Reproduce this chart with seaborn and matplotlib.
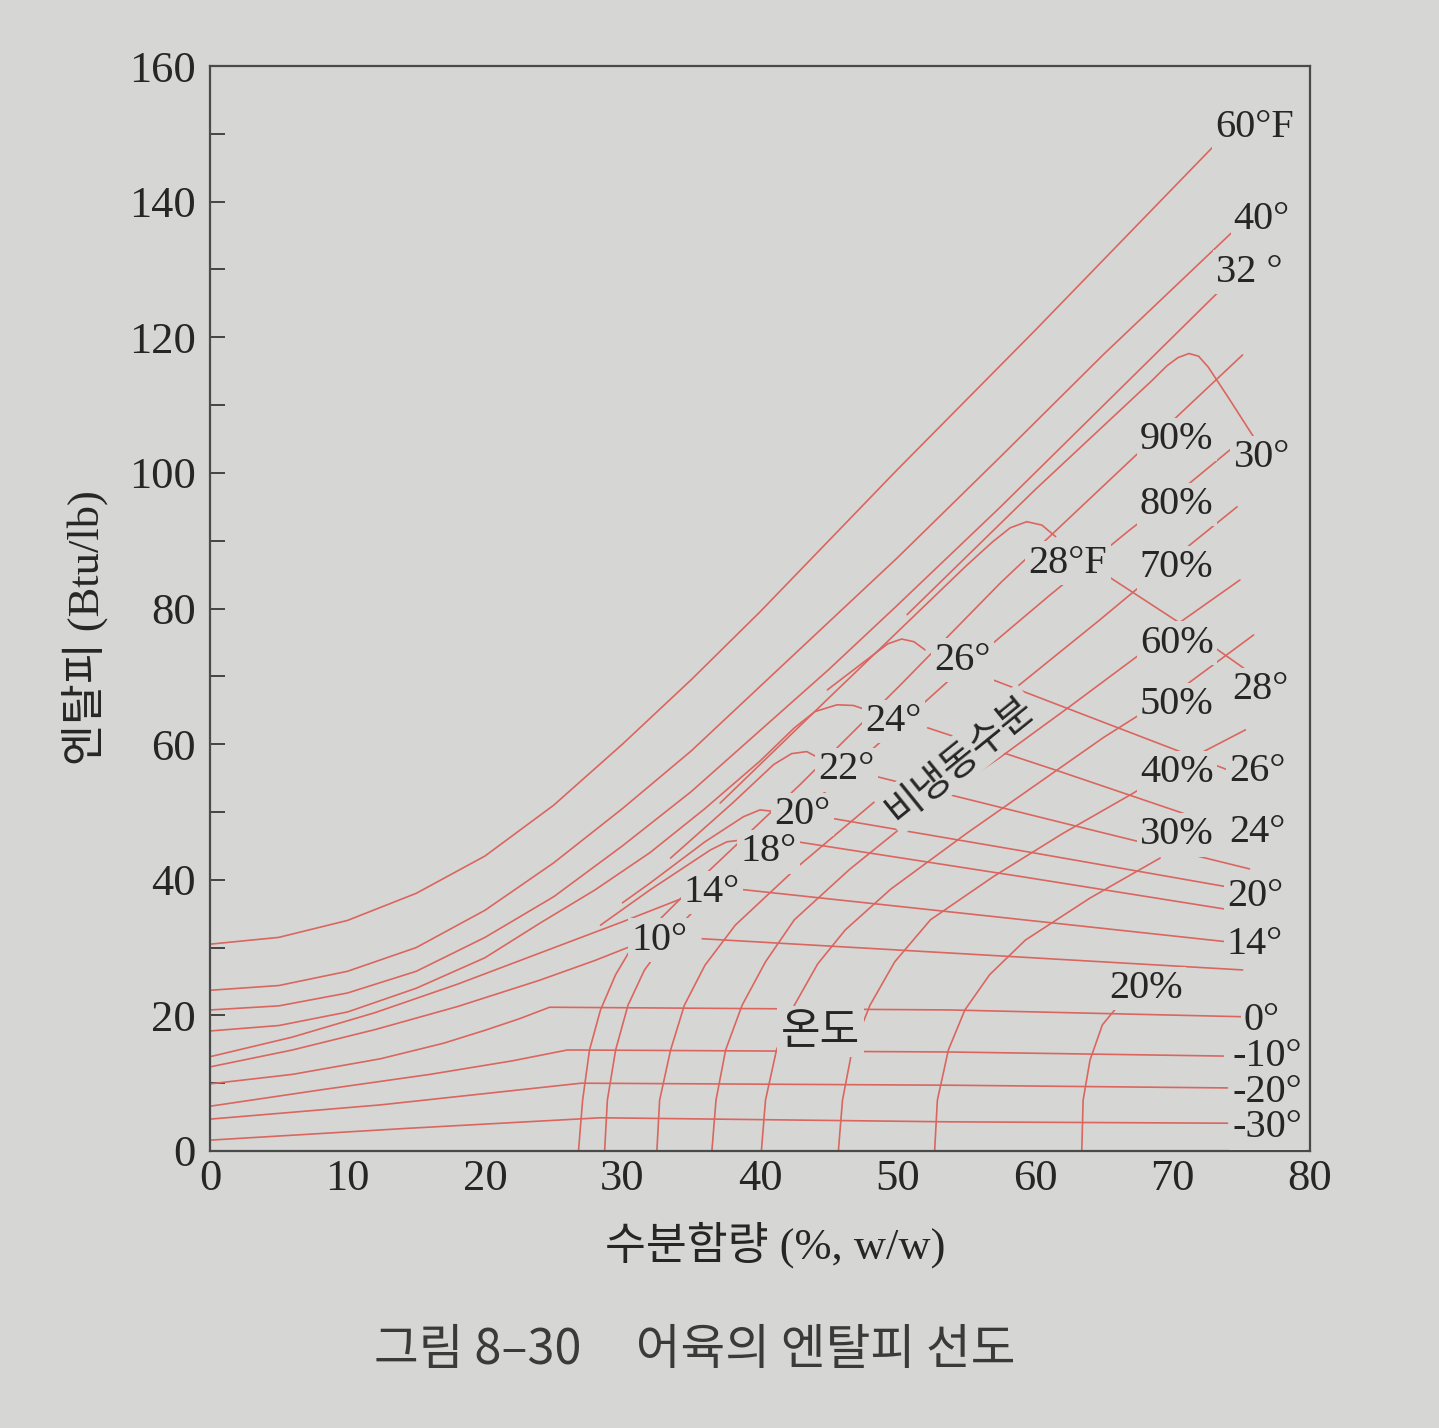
import numpy as np
import pandas as pd
import seaborn as sns
import matplotlib.pyplot as plt

# 수분함량 (%) / 엔탈피 (Btu/lb)

# temperature lines, unfrozen side (left of the freezing boundary)
t60_x = [0, 5, 10, 15, 20, 25, 30, 35, 40, 50, 60, 73.1]
t60_y = [30.5, 31.5, 34, 38, 43.5, 51, 60, 69.5, 79.5, 100.5, 121, 148.4]
t40_x = [0, 5, 10, 15, 20, 25, 30, 35, 40, 45, 50, 57.5, 65, 74.5]
t40_y = [23.7, 24.4, 26.5, 30, 35.5, 42.5, 50.5, 59, 68.5, 78, 87.5, 102.4, 117.5, 135.8]
t32_x = [0, 5, 10, 15, 20, 25, 30, 35, 40, 45, 50, 57.5, 65, 73.5]
t32_y = [20.8, 21.4, 23.3, 26.5, 31.5, 37.5, 45, 53, 62, 71, 80.5, 95, 110, 127]
t30_x = [50.7, 60, 68.5, 69.6, 70.4, 71.2, 71.9, 72.6, 74.0, 75.9]
t30_y = [79.1, 97.5, 113.6, 115.8, 117.0, 117.6, 117.2, 115.6, 111.3, 105.3]
t28_x = [37.1, 45, 55, 56.9, 58.2, 59.4, 60.5, 61.5]
t28_y = [51.3, 66.8, 86.3, 89.8, 91.9, 92.8, 92.3, 90.6]
t26_x = [44.9, 48.0, 49.3, 50.3, 51.2, 52.0]
t26_y = [68.0, 72.8, 74.8, 75.5, 75.1, 73.9]
t24_x = [0, 5, 10, 15, 20, 24, 28, 32, 36, 40, 42.5, 44, 45.6, 46.8, 47.8]
t24_y = [17.7, 18.5, 20.5, 24, 28.5, 33.6, 38.5, 44.0, 50.5, 57.5, 62.4, 64.8, 65.8, 65.7, 65.0]
t22_x = [33.5, 38, 41.0, 42.3, 43.4, 44.6]
t22_y = [43.2, 51.3, 57.0, 58.6, 58.9, 57.6]
t20_x = [30.0, 32, 36, 38.8, 40.0, 40.9]
t20_y = [36.6, 39.5, 45.6, 49.3, 50.3, 50.1]
t18_x = [28.4, 32, 36.4, 37.6, 38.8]
t18_y = [33.3, 38.5, 44.4, 45.6, 45.9]
t14_x = [0, 6, 12, 18, 24, 30, 34.4]
t14_y = [13.9, 16.8, 20.4, 24.6, 29.2, 33.8, 37.3]
t10_x = [0, 6, 12, 18, 24, 28, 30.5]
t10_y = [12.4, 14.9, 17.9, 21.3, 25.2, 28.1, 30.1]
t0_x = [0, 6, 12.4, 17, 20, 22.5, 24.7, 53.8, 75.1]
t0_y = [9.9, 11.3, 13.6, 15.9, 17.8, 19.5, 21.2, 20.8, 19.8]
tm10_x = [0, 8, 16, 22, 26.0, 53.8, 73.7]
tm10_y = [6.6, 9.0, 11.3, 13.3, 14.9, 14.6, 14.0]
tm20_x = [0, 12.4, 27.0, 53.8, 74.0]
tm20_y = [4.7, 6.8, 10.0, 9.7, 9.3]
tm30_x = [0, 14, 28.4, 53.8, 74.0]
tm30_y = [1.6, 3.3, 4.9, 4.3, 4.1]

# temperature lines, frozen side (right of the boundary)
f28_x = [64.9, 70.5, 75.6]
f28_y = [85.3, 77.9, 70.6]
f26_x = [56.4, 65.4, 74.4]
f26_y = [69.9, 62.9, 55.9]
f24_x = [52.2, 61.9, 71.5]
f24_y = [62.4, 55.9, 49.3]
f22_x = [48.5, 62.0, 75.6]
f22_y = [55.2, 48.4, 41.6]
f20_x = [45.1, 59.8, 74.4]
f20_y = [49.1, 44.0, 38.8]
f18_x = [42.7, 59.2, 75.6]
f18_y = [45.6, 40.4, 35.1]
f14_x = [38.5, 56.4, 74.2]
f14_y = [38.6, 34.7, 30.8]
f10_x = [35.8, 55.5, 75.1]
f10_y = [31.3, 29.0, 26.7]

# unfrozen water lines (비냉동수분 %)
w90_x = [26.8, 27.1, 27.6, 28.4, 29.5, 30.7, 35.6, 42.9, 50.2, 57.5, 67.6, 75.1]
w90_y = [0, 7.5, 14.9, 20.8, 26.0, 30.1, 40.0, 54.0, 68.7, 83.8, 103.1, 117.4]
w80_x = [28.7, 28.9, 29.5, 30.4, 31.6, 33.5, 36.2, 39.3, 46.5, 53.8, 61.1, 66.9, 70.9, 74.9]
w80_y = [0, 7.5, 14.9, 21.5, 26.7, 31.9, 37.5, 42.9, 56.2, 69.5, 82.0, 91.6, 97.9, 104.6]
w70_x = [32.5, 32.7, 33.5, 34.5, 36.0, 38.2, 42.9, 50.2, 57.5, 64.7, 71.1, 74.7]
w70_y = [0, 7.5, 14.9, 21.5, 27.4, 33.3, 42.2, 54.7, 66.5, 78.3, 89.1, 95.0]
w60_x = [36.5, 36.8, 37.5, 38.7, 40.4, 42.5, 46.5, 52.0, 57.5, 62.5, 67.6, 70.5, 74.9]
w60_y = [0, 7.5, 14.9, 21.5, 27.9, 34.1, 41.5, 50.5, 58.1, 65.5, 73.2, 77.9, 84.2]
w50_x = [40.1, 40.4, 41.2, 42.5, 44.2, 46.2, 49.5, 55.0, 60.0, 65.0, 70.7, 75.9]
w50_y = [0, 7.5, 14.9, 21.5, 27.6, 32.6, 38.6, 46.8, 53.9, 61.0, 68.3, 76.1]
w40_x = [45.7, 46.0, 46.7, 48.0, 49.8, 52.4, 57.0, 62.0, 67.0, 71.5, 75.3]
w40_y = [0, 7.5, 14.9, 21.5, 27.9, 34.1, 40.5, 46.8, 52.6, 58.1, 62.1]
w30_x = [52.7, 52.9, 53.7, 54.9, 56.7, 59.3, 64.0, 69.1]
w30_y = [0, 7.5, 14.9, 20.8, 26.0, 31.1, 37.3, 43.2]
w20_x = [63.4, 63.5, 64.0, 64.9, 66.2]
w20_y = [0, 7.5, 13.4, 18.6, 21.8]

curves = {
    "60F": (t60_x, t60_y), "40": (t40_x, t40_y), "32": (t32_x, t32_y),
    "30": (t30_x, t30_y), "28": (t28_x, t28_y), "26": (t26_x, t26_y),
    "24": (t24_x, t24_y), "22": (t22_x, t22_y), "20": (t20_x, t20_y),
    "18": (t18_x, t18_y), "14": (t14_x, t14_y), "10": (t10_x, t10_y),
    "0": (t0_x, t0_y), "-10": (tm10_x, tm10_y), "-20": (tm20_x, tm20_y),
    "-30": (tm30_x, tm30_y),
    "f28": (f28_x, f28_y), "f26": (f26_x, f26_y), "f24": (f24_x, f24_y),
    "f22": (f22_x, f22_y), "f20": (f20_x, f20_y), "f18": (f18_x, f18_y),
    "f14": (f14_x, f14_y), "f10": (f10_x, f10_y),
    "w90": (w90_x, w90_y), "w80": (w80_x, w80_y), "w70": (w70_x, w70_y),
    "w60": (w60_x, w60_y), "w50": (w50_x, w50_y), "w40": (w40_x, w40_y),
    "w30": (w30_x, w30_y), "w20": (w20_x, w20_y),
}

# curve labels: text, x, y
label_text = ["60°F", "40°", "32 °", "30°", "28°F", "28°", "26°", "26°", "24°", "24°",
              "22°", "20°", "20°", "18°", "14°", "14°", "10°",
              "0°", "-10°", "-20°", "-30°",
              "90%", "80%", "70%", "60%", "50%", "40%", "30%", "20%"]
label_x = [76.0, 76.5, 75.6, 76.5, 62.4, 76.4, 54.7, 76.2, 49.7, 76.2,
           46.3, 43.1, 76.0, 40.6, 36.5, 76.0, 32.7,
           76.5, 76.9, 76.9, 76.9,
           70.3, 70.3, 70.3, 70.3, 70.3, 70.3, 70.3, 68.1]
label_y = [151.0, 137.3, 129.6, 102.2, 86.7, 68.0, 72.4, 55.9, 63.3, 46.9,
           56.2, 49.6, 37.5, 44.1, 38.1, 30.4, 31.1,
           19.3, 13.9, 8.7, 3.4,
           104.9, 95.3, 86.0, 74.9, 65.8, 55.8, 46.6, 24.0]

BG = "#d6d7d5"
LINE = "#da665f"
INK = "#262626"

sns.set_theme(style="white")
plt.rcParams["font.family"] = ["Liberation Serif", "Noto Sans CJK KR"]

frames = [pd.DataFrame({"x": xs, "y": ys, "curve": k}) for k, (xs, ys) in curves.items()]
df = pd.concat(frames, ignore_index=True)

fig = plt.figure(figsize=(14.39, 14.28), dpi=100, facecolor=BG)
ax = fig.add_axes([210 / 1439, 1 - 1151 / 1428, 1100 / 1439, 1085 / 1428])
ax.set_facecolor(BG)

sns.lineplot(data=df, x="x", y="y", units="curve", estimator=None, sort=False,
             color=LINE, linewidth=1.2, legend=False, ax=ax)

ax.set_xlim(0, 80)
ax.set_ylim(0, 160)
ax.set_xticks(np.arange(0, 81, 10))
ax.set_yticks(np.arange(0, 161, 20))
ax.set_yticks(np.arange(10, 160, 20), minor=True)
ax.tick_params(axis="x", length=0, pad=6, labelsize=32, labelcolor=INK)
ax.tick_params(axis="y", which="both", direction="in", length=11, width=1.4,
               color="#444444", pad=10, labelsize=32, labelcolor=INK, left=True)
ax.set_xlabel("")
ax.set_ylabel("")
for s in ax.spines.values():
    s.set_color("#4a4a4a")
    s.set_linewidth(1.6)

box = dict(boxstyle="square,pad=0.08", facecolor=BG, edgecolor="none")
for t, x, y in zip(label_text, label_x, label_y):
    ax.text(x, y, t, ha="center", va="center", fontsize=29, color=INK, bbox=box)

ax.text(54.5, 57.7, "비냉동수분", rotation=39, ha="center", va="center",
        fontsize=28, color=INK, family=["Noto Sans CJK KR"], bbox=box)
ax.text(44.4, 17.6, "온도", ha="center", va="center", fontsize=31, color=INK,
        family=["Noto Sans CJK KR"], bbox=box)

fig.text(85 / 1439, 1 - 628 / 1428, "엔탈피 (Btu/lb)", rotation=90, ha="center",
         va="center", fontsize=32, color=INK)
fig.text(775 / 1439, 1 - 1245 / 1428, "수분함량 (%, w/w)", ha="center", va="center",
         fontsize=32, color=INK)
fig.text(695 / 1439, 1 - 1350 / 1428, "그림 8–30     어육의 엔탈피 선도", ha="center",
         va="center", fontsize=35, color="#3a3a3a", family=["Noto Sans CJK KR", "DejaVu Sans"])

fig.savefig("out.png", dpi=100, facecolor=BG)
